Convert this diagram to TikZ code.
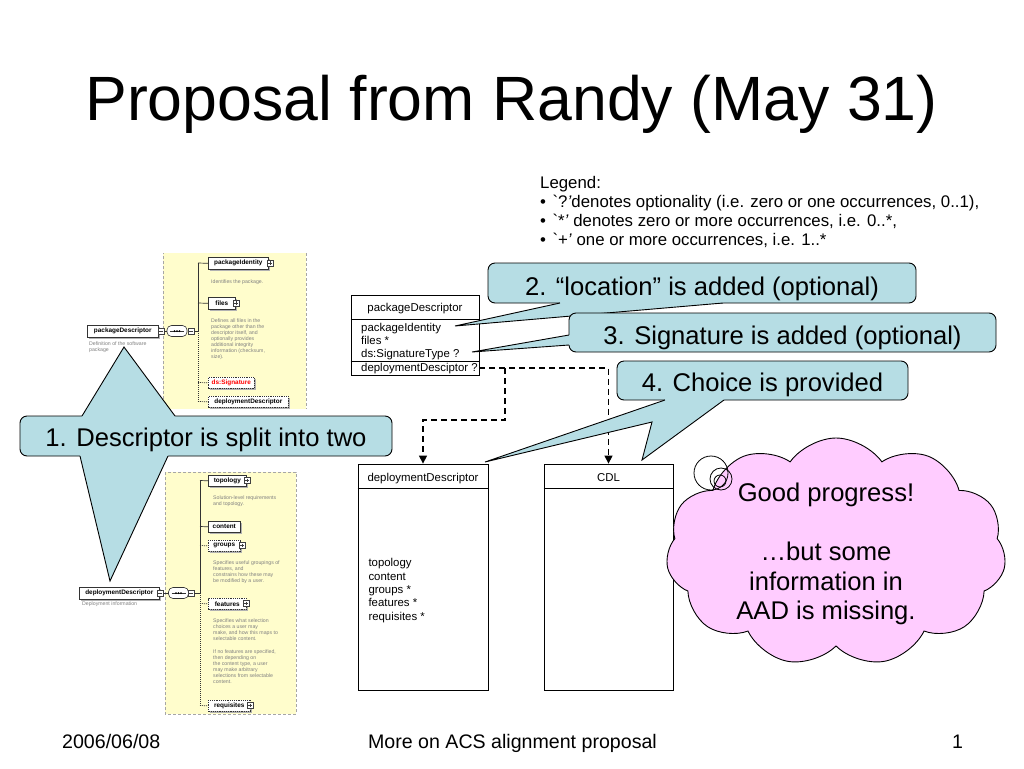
\documentclass[tikz,border=0pt]{standalone}
\usepackage{fontspec}
\setmainfont{Liberation Sans}
\usetikzlibrary{shapes.symbols,shadows,arrows.meta}
\definecolor{cfill}{RGB}{182,221,228}
\definecolor{pinkfill}{RGB}{255,204,255}
\definecolor{yel}{RGB}{255,253,204}
\newcommand\myfs[2]{\fontsize{#1}{#2}\selectfont}
\begin{document}
\begin{tikzpicture}[x=1pt,y=-1pt,
  callout/.style={draw=black, fill=cfill, rounded corners=7pt, line width=0.9pt, inner sep=0pt},
  cline/.style={draw=black, line width=0.9pt, line join=miter},
  ctext/.style={font=\myfs{25.6}{30}, inner sep=0pt, anchor=base},
  leg/.style={font=\myfs{16.8}{19}, inner sep=0pt, anchor=base west},
  umlbox/.style={draw=black, line width=0.8pt, fill=white, inner sep=0pt},
  umltxt/.style={font=\myfs{11.4}{13}, inner sep=0pt},
  dl/.style={line width=1.3pt, dash pattern=on 6pt off 4pt, -{Triangle[length=8pt,width=8pt]}},
  xel/.style={draw=black!80, fill=white, line width=0.6pt, inner sep=0pt, anchor=north west,
     font=\myfs{6.4}{7}\bfseries, drop shadow={shadow xshift=1.2pt, shadow yshift=-1.2pt, fill=black!30, opacity=1}},
  xelopt/.style={xel, dash pattern=on 1.2pt off 1pt},
  desc/.style={font=\myfs{5.2}{5.9}, text=black!50, inner sep=0pt, anchor=north west, align=left},
  xline/.style={draw=black!80, line width=0.7pt},
  xdot/.style={draw=black!80, line width=0.7pt, dash pattern=on 1pt off 1pt},
  plusbox/.pic={\draw[black!75, fill=white, line width=0.5pt] (-3,-3) rectangle (3,3);
                \draw[black!75, line width=0.5pt] (-1.8,0) -- (1.8,0) (0,-1.8) -- (0,1.8);},
  minusbox/.pic={\draw[black!75, fill=white, line width=0.5pt] (-3,-3) rectangle (3,3);
                \draw[black!75, line width=0.5pt] (-1.8,0) -- (1.8,0);},
  seqoval/.style={draw=black!80, fill=white, line width=0.6pt, rounded corners=4.5pt, minimum width=20, minimum height=11, inner sep=0pt}
]
\useasboundingbox (0,0) rectangle (1024,768);
\fill[white] (0,0) rectangle (1024,768);

% title and footer
\node[anchor=base, font=\myfs{62.6}{70}, inner sep=0pt] (title) at (511.5,120) {Proposal from Randy (May 31)};
\node[anchor=base west, font=\myfs{19.6}{22}, inner sep=0pt] (date) at (62,748) {2006/06/08};
\node[anchor=base, font=\myfs{19.6}{22}, inner sep=0pt] (foot) at (512.5,748) {More on ACS alignment proposal};
\node[anchor=base, font=\myfs{19.6}{22}, inner sep=0pt] (pg) at (957.5,748) {1};

% legend
\node[leg] (lg0) at (540,188) {Legend:};
\node[leg] (lg1) at (540,207.5) {\textbullet\hspace{6.5pt}\textasciigrave?\textit{'}denotes optionality (i.e. zero or one occurrences, 0..1),};
\node[leg] (lg2) at (540,226.5) {\textbullet\hspace{6.5pt}\textasciigrave*\textit{'} denotes zero or more occurrences, i.e. 0..*,};
\node[leg] (lg3) at (540,245.5) {\textbullet\hspace{6.5pt}\textasciigrave+\textit{'} one or more occurrences, i.e. 1..*};

% ---------- top schema panel ----------
\fill[yel] (163,253) rectangle (306,409);
\draw[black!35, line width=0.6pt, dash pattern=on 3pt off 2pt] (163,409) -- (163,253);
\draw[black!35, line width=0.6pt, dash pattern=on 3pt off 2pt] (306,253) -- (306,409);
\node[xel, minimum width=71, minimum height=12] (pdm) at (87,325) {packageDescriptor};
\pic at (161,331) {minusbox};
\node[desc] (pdmd) at (89,341.5) {Definition of the software\\package};
\draw[xline] (164,331) -- (167,331);
\node[seqoval] (seq1) at (177,331) {};
\draw[black!80, line width=0.6pt] (170,331) -- (184,331);
\fill[black] (174.5,331) circle[radius=1] (177,331) circle[radius=1] (179.5,331) circle[radius=1];
\pic at (191,331) {minusbox};
\draw[xline] (194,331) -- (198,331);
\draw[xline] (198,263) -- (198,331);
\draw[xdot] (198,331) -- (198,401.5);
\node[xel, minimum width=60, minimum height=12] (pid) at (208,257) {packageIdentity};
\pic at (270,263) {plusbox};
\node[desc, anchor=west] (pidd) at (211,281.7) {Identifies the package.};
\node[xel, minimum width=27, minimum height=12] (fil) at (208,297) {files};
\pic at (236,303) {plusbox};
\node[desc] (fild) at (211,319) {Defines all files in the\\package other than the\\descriptor itself, and\\optionally provides\\additional integrity\\information (checksum,\\size).};
\node[xelopt, minimum width=46, minimum height=11, text=red] (dss) at (208,377) {ds:Signature};
\node[xelopt, minimum width=80, minimum height=11] (ddm1) at (208,396) {deploymentDescriptor};
\draw[xline] (198,263) -- (pid.west);
\draw[xline] (198,303) -- (fil.west);
\draw[xdot] (198,382.5) -- (dss.west);
\draw[xdot] (198,401.5) -- (ddm1.west);

% ---------- bottom schema panel ----------
\fill[yel] (165,472) rectangle (296,714);
\draw[black!35, line width=0.6pt, dash pattern=on 3pt off 2pt] (165,472) rectangle (296,714);
\node[xel, minimum width=80, minimum height=12] (ddm2) at (79,587) {deploymentDescriptor};
\pic at (160,593) {minusbox};
\node[desc, anchor=west] (ddmd) at (82,604) {Deployment information};
\draw[xline] (163,593) -- (169,593);
\node[seqoval] (seq2) at (178.5,593) {};
\draw[black!80, line width=0.6pt] (171.5,593) -- (185.5,593);
\fill[black] (176,593) circle[radius=1] (178.5,593) circle[radius=1] (181,593) circle[radius=1];
\pic at (191,593) {minusbox};
\draw[xline] (194,593) -- (200,593);
\draw[xline] (200,480.5) -- (200,593);
\draw[xdot] (200,593) -- (200,705.5);
\node[xel, minimum width=38, minimum height=11] (topo) at (208,475) {topology};
\pic at (247,480.5) {plusbox};
\node[desc] (topod) at (213,495.5) {Solution-level requirements\\and topology.};
\node[xel, minimum width=32, minimum height=11] (cont) at (208,521) {content};
\node[xelopt, minimum width=32, minimum height=11] (grp) at (208,540) {groups};
\pic at (242,545.5) {plusbox};
\node[desc] (grpd) at (213,561) {Specifies useful groupings of\\features, and\\constrains how these may\\be modified by a user.};
\node[xelopt, minimum width=38, minimum height=11] (feat) at (208,598) {features};
\pic at (246,603.5) {plusbox};
\node[desc] (featd) at (213,619) {Specifies what selection\\choices a user may\\make, and how this maps to\\selectable content.};
\node[desc] (featd2) at (213,650) {If no features are specified,\\then depending on\\the content type, a user\\may make arbitrary\\selections from selectable\\content.};
\node[xelopt, minimum width=42, minimum height=11] (req) at (208,700) {requisites};
\pic at (250,705.5) {plusbox};
\draw[xline] (200,480.5) -- (topo.west);
\draw[xline] (200,526.5) -- (cont.west);
\draw[xdot] (200,545.5) -- (grp.west);
\draw[xdot] (200,603.5) -- (feat.west);
\draw[xdot] (200,705.5) -- (req.west);

% ---------- UML boxes ----------
\node[umlbox, minimum width=128, minimum height=80] (pd) at (415,335) {};
\coordinate (sepa) at (0,319);
\coordinate (sepb) at (0,361);
\draw[line width=0.8pt] (pd.west |- sepa) -- (pd.east |- sepa);
\draw[line width=0.8pt] (pd.west |- sepb) -- (pd.east |- sepb);
\node[umltxt, anchor=base] (pdt) at (415,311.5) {packageDescriptor};
\node[umltxt, anchor=base west] (r1) at (361,331.5) {packageIdentity};
\node[umltxt, anchor=base west] (r2) at (361,344.5) {files *};
\node[umltxt, anchor=base west] (r3) at (361,357.5) {ds:SignatureType ?};
\node[umltxt, anchor=base west] (r4) at (361,371) {deploymentDesciptor ?};

\node[umlbox, minimum width=130, minimum height=226] (dd) at (423,577) {};
\node[umlbox, minimum width=129, minimum height=226] (cdl) at (608.5,577) {};
\coordinate (sepc) at (0,488);
\draw[line width=0.8pt] (dd.west |- sepc) -- (dd.east |- sepc);
\draw[line width=0.8pt] (cdl.west |- sepc) -- (cdl.east |- sepc);
\node[umltxt, anchor=base] (ddt) at (423,481.7) {deploymentDescriptor};
\node[umltxt, anchor=base] (cdlt) at (608.5,481.7) {CDL};
\node[umltxt, anchor=base west] (d1) at (368.3,566.7) {topology};
\node[umltxt, anchor=base west] (d2) at (368.3,580) {content};
\node[umltxt, anchor=base west] (d3) at (368.3,593.3) {groups *};
\node[umltxt, anchor=base west] (d4) at (368.3,606.7) {features *};
\node[umltxt, anchor=base west] (d5) at (368.3,620) {requisites *};

% dashed connectors
\coordinate (bend) at (505,420);
\draw[dl] (pd.east |- r4) -- (cdl.north |- r4) -- (cdl.north);
\draw[dl] (bend |- r4) -- (bend) -- (dd.north |- bend) -- (dd.north);

% ---------- callout 1 ----------
\node[callout, minimum width=372, minimum height=40] (c1) at (206,436) {};
\fill[cfill] (82,418) -- (82,416) -- (124,347) -- (175,416) -- (175,418) -- cycle;
\draw[cline] (82,416) -- (124,347) -- (175,416);
\fill[cfill] (80,454) -- (80,456) -- (110,581) -- (168,456) -- (168,454) -- cycle;
\draw[cline] (80,456) -- (110,581) -- (168,456);
\node[ctext] (t1) at (206,446) {1. Descriptor is split into two};

% ---------- callout 2 ----------
\node[callout, minimum width=428, minimum height=40] (c2) at (702,283) {};
\fill[cfill] (560,301) -- (560,303) -- (455,326) -- (723,303) -- (723,301) -- cycle;
\draw[cline] (560,303) -- (455,326) -- (723,303);
\node[ctext] (t2) at (702,295) {2. “location” is added (optional)};

% ---------- callout 3 ----------
\node[callout, minimum width=427, minimum height=39] (c3) at (782.5,332.5) {};
\fill[cfill] (571,335) -- (569,335) -- (472,352) -- (569,345) -- (571,345) -- cycle;
\draw[cline] (569,335) -- (472,352) -- (569,345);
\node[ctext] (t3) at (782.5,344) {3. Signature is added (optional)};

% ---------- callout 4 ----------
\node[callout, minimum width=291, minimum height=39] (c4) at (762.5,380.5) {};
\fill[cfill] (665,398) -- (665,400) -- (485,462) -- (652,422) -- (642,460) -- (724,400) -- (724,398) -- cycle;
\draw[cline] (665,400) -- (485,462) -- (652,422) -- (642,460) -- (724,400);
\node[ctext] (t4) at (762.5,391) {4. Choice is provided};

% ---------- cloud ----------
\node[cloud, cloud puffs=11, cloud puff arc=110, aspect=1.5, draw=black, line width=0.9pt, fill=pinkfill,
      minimum width=340, minimum height=228, inner sep=0pt] (cloud) at (836,552) {};
\draw[line width=0.8pt] (711,473) circle[radius=17];
\draw[line width=0.8pt] (721,479) circle[radius=11];
\draw[line width=0.8pt] (720,481) circle[radius=6];
\node[align=center, font=\myfs{25.6}{29.5}, inner sep=0pt] (ctxt) at (826,554) {Good progress!\\[29.5pt]…but some\\information in\\AAD is missing.};
\end{tikzpicture}
\end{document}
